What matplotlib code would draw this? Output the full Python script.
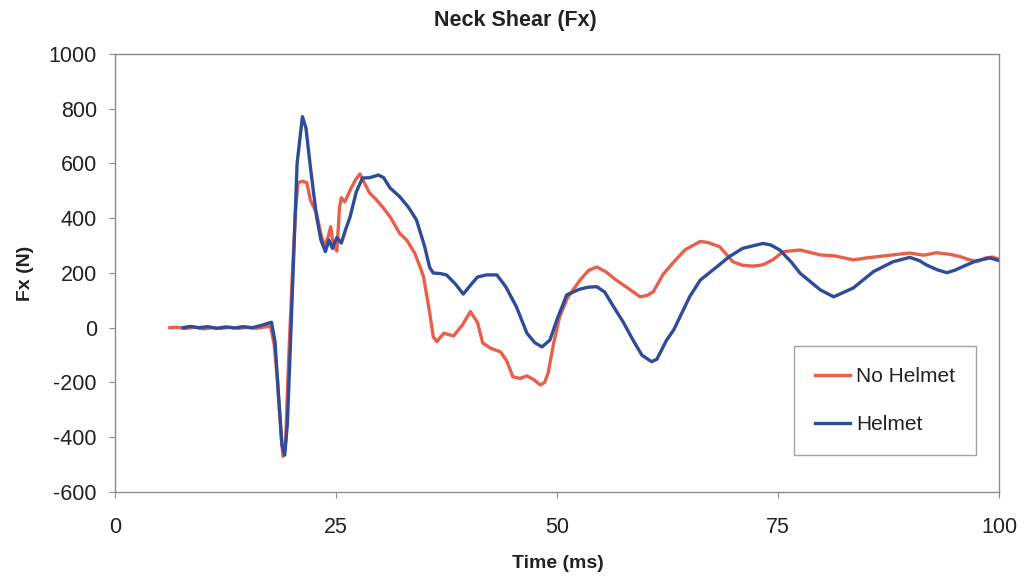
import matplotlib.pyplot as plt
import matplotlib.ticker as ticker

# Neck shear traces
nohelmet_t = [6.2, 7, 8, 9, 10, 11, 12, 13, 14, 15, 16, 17, 17.6, 18.0, 18.4, 18.8, 19.0, 19.3,
              19.6, 20.0, 20.4, 20.7, 21.2, 21.7, 22.1, 22.8, 23.3, 23.7, 24.1, 24.4, 24.7, 25.1,
              25.4, 25.6, 26.0, 26.6, 27.2, 27.7, 28.2, 28.8, 29.5, 30.3, 31.1, 32.2, 33.0, 33.9,
              34.5, 34.9, 35.6, 36.0, 36.4, 37.2, 38.3, 39.3, 40.2, 41.0, 41.6, 42.5, 43.6, 44.3,
              45.0, 45.8, 46.6, 47.4, 48.1, 48.6, 49.0, 49.6, 50.3, 51.2, 52.6, 53.6, 54.5, 55.5,
              56.7, 58.0, 59.4, 60.2, 60.9, 62.0, 63.2, 64.5, 66.2, 67.0, 68.4, 69.9, 71.0, 72.2,
              73.3, 74.4, 75.6, 77.5, 79.8, 81.5, 83.5, 85.0, 86.9, 88.5, 89.9, 91.5, 92.9, 94.5,
              95.6, 96.5, 97.5, 98.5, 99.3, 100]
nohelmet_fx = [0, 2, -3, 2, -4, 0, -3, 2, -2, 1, -2, 3, 5, -60, -200, -400, -470, -420,
               -150, 150, 420, 530, 535, 530, 467, 418, 340, 300, 330, 369, 300, 280,
               440, 475, 460, 503, 540, 562, 530, 492, 470, 440, 406, 345, 320, 273,
               223, 187, 54, -33, -51, -20, -30, 10, 59, 20, -56, -75, -88, -120,
               -179, -185, -176, -190, -209, -200, -165, -60, 40, 110, 174, 210, 222, 205,
               174, 145, 113, 118, 132, 195, 240, 285, 315, 312, 296, 241, 228, 225,
               230, 248, 278, 284, 266, 262, 248, 255, 262, 268, 273, 265, 274, 268,
               260, 250, 241, 255, 258, 250]

helmet_t = [7.7, 8.5, 9.5, 10.5, 11.5, 12.5, 13.5, 14.5, 15.5, 16.5, 17.2, 17.7, 18.1, 18.5,
            18.9, 19.2, 19.5, 19.8, 20.2, 20.6, 21.2, 21.6, 22.1, 22.8, 23.3, 23.8, 24.2, 24.6,
            25.1, 25.6, 26.1, 26.6, 27.3, 28.0, 28.8, 29.8, 30.4, 31.1, 32.2, 33.2, 34.1, 35.0,
            35.6, 36.0, 36.8, 37.5, 38.5, 39.4, 40.2, 41.0, 42.0, 43.2, 44.2, 45.4, 46.6, 47.5,
            48.3, 49.2, 50.0, 51.1, 52.5, 53.5, 54.5, 55.4, 56.4, 57.5, 58.6, 59.6, 60.7, 61.3,
            62.4, 63.2, 65.0, 66.2, 68.1, 69.5, 71.0, 73.3, 74.2, 75.2, 76.5, 77.5, 79.8, 81.3,
            83.5, 85.8, 88.0, 89.9, 91.0, 91.8, 93.0, 94.1, 95.0, 96.3, 97.5, 99.0, 100]
helmet_fx = [0, 5, 0, 4, -2, 3, -1, 4, 0, 8, 15, 20, -50, -250,
             -430, -465, -350, -100, 250, 600, 771, 730, 588, 406, 320, 278, 320, 290,
             330, 309, 360, 406, 497, 547, 548, 558, 548, 511, 479, 440, 394, 300,
             220, 200, 198, 193, 160, 123, 155, 185, 193, 193, 150, 77, -20, -55,
             -70, -45, 30, 120, 140, 148, 150, 130, 77, 20, -45, -100, -124, -115,
             -45, -8, 113, 174, 223, 260, 290, 308, 302, 284, 240, 199, 138, 113,
             145, 205, 241, 257, 245, 229, 212, 201, 210, 229, 245, 255, 245]

plt.rcParams['font.family'] = ['Liberation Sans', 'DejaVu Sans']
plt.rcParams['axes.unicode_minus'] = False

fig = plt.figure(figsize=(10.24, 5.78), dpi=100)
ax = fig.add_axes([0.1123, 0.1488, 0.8633, 0.7578])

ax.plot(nohelmet_t, nohelmet_fx, color='#E8604C', lw=2.4, label='No Helmet')
ax.plot(helmet_t, helmet_fx, color='#2F4C98', lw=2.4, label='Helmet')

ax.set_xlim(0, 100)
ax.set_ylim(-600, 1000)
ax.xaxis.set_major_locator(ticker.MultipleLocator(25))
ax.yaxis.set_major_locator(ticker.MultipleLocator(200))

for s in ax.spines.values():
    s.set_color('#8C8C8C')
    s.set_linewidth(1.0)
ax.tick_params(axis='both', direction='out', length=4, color='#8C8C8C', labelsize=15.5, labelcolor='#222222')
ax.tick_params(axis='x', pad=14)
ax.tick_params(axis='y', pad=9)

# chart title is centred on the whole figure, not on the plot area
fig.text(0.503, 0.965, 'Neck Shear (Fx)', fontsize=15.5, fontweight='bold',
         ha='center', va='center', color='#222222')
ax.set_xlabel('Time (ms)', fontsize=14, fontweight='bold', color='#222222')
ax.set_ylabel('Fx (N)', fontsize=14, fontweight='bold', color='#222222')
ax.xaxis.set_label_coords(0.501, -0.143)
ax.yaxis.set_label_coords(-0.092, 0.5)

leg = ax.legend(loc='lower right', bbox_to_anchor=(0.974, 0.0845), fontsize=15,
                frameon=True, fancybox=False, borderpad=1.0, labelspacing=1.4,
                handlelength=1.7, handletextpad=0.3, borderaxespad=0)
leg.get_frame().set_edgecolor('#8C8C8C')
leg.get_frame().set_linewidth(1.0)
for t in leg.get_texts():
    t.set_color('#222222')

fig.savefig('out.png', dpi=100)
